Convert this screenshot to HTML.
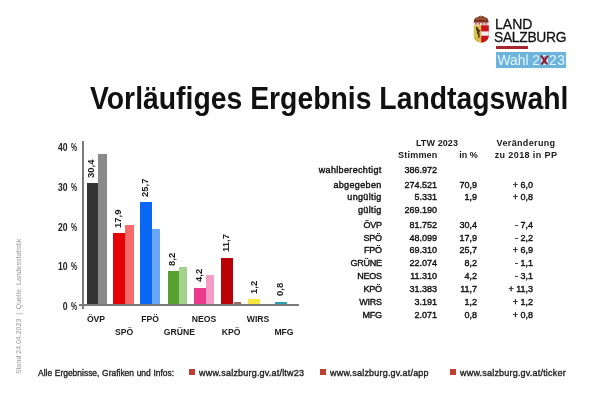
<!DOCTYPE html>
<html><head><meta charset="utf-8">
<style>
*{margin:0;padding:0;box-sizing:border-box}
html,body{width:600px;height:400px;background:#fff;overflow:hidden}
body{will-change:transform}
body{position:relative;font-family:"Liberation Sans",sans-serif;color:#1a1a1a}
.a{position:absolute;white-space:nowrap}
.bar{position:absolute}
.yl{position:absolute;font-size:10px;line-height:9px;text-align:right;width:30px;left:47px;color:#222;font-weight:bold;word-spacing:-0.6px;transform-origin:100% 50%;transform:scaleX(0.86)}
.pc{display:inline-block;transform:scaleX(0.78);transform-origin:100% 50%}
.xl{position:absolute;font-size:9.8px;line-height:9px;color:#1a1a1a;text-align:center;width:30px;font-weight:bold;transform:scaleX(0.88)}
.vl{position:absolute;font-size:9.5px;line-height:9px;color:#1a1a1a;font-weight:bold;transform-origin:0 0;transform:rotate(-90deg)}
.t{position:absolute;font-size:9px;line-height:9px;color:#1a1a1a}
.r{text-align:right}
.ft{position:absolute;font-size:9px;line-height:9px;color:#222;top:368.5px;-webkit-text-stroke:0.35px #222;letter-spacing:0.2px}
.sq{position:absolute;width:6px;height:6px;background:#bd3f32;top:369px}
.row{position:absolute;left:0;height:9px;width:600px;font-size:9px;line-height:9px;color:#111;-webkit-text-stroke:0.38px #111}
.c1{letter-spacing:0.35px}
.c1.p{letter-spacing:-0.25px;right:218.3px}
.row span{position:absolute;top:0;text-align:right;white-space:nowrap}
.c1{right:218.4px}.c2{right:163px}.c3{right:123px}.c4{right:67px}
</style></head><body>

<!-- Logo -->
<svg class="a" style="left:473px;top:15px" width="17" height="29" viewBox="0 0 17 29">
  <path d="M0.8 8 C0.5 4.2 2.2 2.4 4.4 2.4 C5.5 1.6 7 1.1 8.2 1.1 C9.4 1.1 10.9 1.6 12 2.4 C14.2 2.4 15.8 4.2 15.5 8 Z" fill="#7e2e22"/>
  <path d="M3 4.5 C5 3.5 11 3.5 13 4.5" stroke="#b48a44" stroke-width="0.8" fill="none"/>
  <circle cx="8" cy="1.4" r="1" fill="#a8804a"/>
  <rect x="1" y="7.6" width="14.5" height="2.6" fill="#f3e6e0"/>
  <circle cx="3" cy="8.9" r="0.8" fill="#c02a2c"/><circle cx="6.2" cy="8.9" r="0.8" fill="#c02a2c"/><circle cx="9.6" cy="8.9" r="0.8" fill="#c02a2c"/><circle cx="13" cy="8.9" r="0.8" fill="#c02a2c"/>
  <path d="M0.7 10.2 H8.1 V27.8 C4.5 27.5 1.2 25.5 0.8 21 Z" fill="#dcc04a"/>
  <path d="M8.1 10.2 H15.8 V21 C15.4 25.5 11.7 27.5 8.1 27.8 Z" fill="#c8141c"/>
  <rect x="8.1" y="16.4" width="7.7" height="4.3" fill="#f6eeee"/>
  <path d="M3 11.8 L5 12.6 L5.6 14.6 L7.4 15.4 L6.2 17.6 L6.8 20.6 L6.2 23.6 L5.2 22.4 L5.1 19.8 L3.9 18.2 L4.2 16.2 L3 14.4 Z" fill="#2e1c10" opacity="0.85"/>
  <path d="M1.5 22 C2.5 24 3.5 25 5 25.8" stroke="#b89838" stroke-width="1" fill="none"/>
</svg>
<div class="a" style="left:494.6px;top:15.6px;font-size:15.4px;line-height:15px;color:#111;-webkit-text-stroke:0.3px #111;transform-origin:0 0;transform:scaleX(0.91)">LAND</div>
<div class="a" style="left:494.4px;top:28.8px;font-size:15.4px;line-height:15px;color:#111;letter-spacing:-0.35px;-webkit-text-stroke:0.3px #111;transform-origin:0 0;transform:scaleX(0.9)">SALZBURG</div>
<div class="a" style="left:496px;top:46px;width:32px;height:2.7px;background:#a82430"></div>
<div class="a" style="left:496px;top:52.4px;width:70px;height:15.6px;background:#6cb4dc"></div>
<div class="a" style="left:497.6px;top:52.6px;font-size:13.8px;line-height:15px;color:#e2f6ff">Wahl <span style="letter-spacing:0.6px">2<span style="position:relative">0<svg style="position:absolute;left:-0.5px;top:2.6px" width="9" height="10" viewBox="0 0 9 10"><path d="M1 0.5 L7 9.3 M7.8 0.8 L1.6 9.3" stroke="#9a1428" stroke-width="2" fill="none"/></svg></span>23</span></div>

<!-- Title -->
<div class="a" id="title" style="left:90px;top:80.7px;font-size:31.5px;line-height:34px;font-weight:bold;color:#111;transform-origin:0 0;transform:scaleX(0.9)">Vorläufiges Ergebnis Landtagswahl</div>

<!-- Side note -->
<div class="a" style="left:14.5px;top:373.5px;font-size:7px;line-height:7px;color:#9a9a9a;transform-origin:0 0;transform:rotate(-90deg);letter-spacing:0">Stand 24.04.2023 &nbsp;|&nbsp; Quelle: Landesstatistik</div>

<!-- Chart axes -->
<div class="bar" style="left:82px;top:141px;width:2px;height:168px;background:#7a7a7a"></div>
<div class="bar" style="left:79px;top:304px;width:220px;height:2px;background:#7a7a7a"></div>

<div class="yl" style="top:142.7px">40 <span class="pc">%</span></div>
<div class="yl" style="top:182.7px">30 <span class="pc">%</span></div>
<div class="yl" style="top:222.5px">20 <span class="pc">%</span></div>
<div class="yl" style="top:262px">10 <span class="pc">%</span></div>
<div class="yl" style="top:302px">0 <span class="pc">%</span></div>

<!-- Bars: 0 at y=304.7, 4px per % -->
<div class="bar" style="left:86.5px;top:183px;width:11.3px;height:121px;background:#333"></div>
<div class="bar" style="left:98px;top:153.5px;width:8.5px;height:150.5px;background:#8a8a8a"></div>

<div class="bar" style="left:113.3px;top:233px;width:11.5px;height:71px;background:#e60008"></div>
<div class="bar" style="left:125px;top:224.5px;width:8.5px;height:79.5px;background:#f86a6a"></div>

<div class="bar" style="left:140.3px;top:202px;width:11.5px;height:102px;background:#0a66f4"></div>
<div class="bar" style="left:152px;top:229px;width:8.3px;height:75px;background:#68a8f6"></div>

<div class="bar" style="left:167.5px;top:271.3px;width:11.3px;height:32.7px;background:#58a232"></div>
<div class="bar" style="left:179px;top:267px;width:8.2px;height:37px;background:#a2d28c"></div>

<div class="bar" style="left:194.3px;top:287.5px;width:11.5px;height:16.5px;background:#ea3a8c"></div>
<div class="bar" style="left:206.2px;top:275px;width:8.2px;height:29px;background:#f49cc4"></div>

<div class="bar" style="left:221.3px;top:257.5px;width:11.8px;height:46.5px;background:#bc0008"></div>
<div class="bar" style="left:233.5px;top:302.3px;width:7.8px;height:1.7px;background:#9a6a64"></div>

<div class="bar" style="left:247.6px;top:299px;width:12.4px;height:5px;background:#f5e63c"></div>
<div class="bar" style="left:275px;top:301.5px;width:12.3px;height:2.5px;background:#2aa2b8"></div>

<!-- value labels (rotated) -->
<div class="vl" style="left:85.5px;top:177.5px">30,4</div>
<div class="vl" style="left:113.2px;top:228.0px">17,9</div>
<div class="vl" style="left:140.2px;top:196.5px">25,7</div>
<div class="vl" style="left:167.2px;top:265.5px">8,2</div>
<div class="vl" style="left:194.2px;top:282.0px">4,2</div>
<div class="vl" style="left:221.2px;top:251.5px">11,7</div>
<div class="vl" style="left:249.0px;top:293.5px">1,2</div>
<div class="vl" style="left:274.8px;top:296.0px">0,8</div>

<!-- x labels -->
<div class="xl" style="left:81.3px;top:314px">ÖVP</div>
<div class="xl" style="left:108.5px;top:326.8px">SPÖ</div>
<div class="xl" style="left:134.5px;top:314px">FPÖ</div>
<div class="xl" style="left:162px;top:326.8px">GRÜNE</div>
<div class="xl" style="left:189px;top:314px">NEOS</div>
<div class="xl" style="left:215.5px;top:326.8px">KPÖ</div>
<div class="xl" style="left:242.5px;top:314px">WIRS</div>
<div class="xl" style="left:269px;top:326.8px">MFG</div>

<!-- Table header -->
<div class="t" style="left:407px;top:138.6px;width:60px;text-align:center;font-weight:bold;letter-spacing:0.1px">LTW 2023</div>
<div class="t r" style="left:387px;top:151px;width:50.5px;font-weight:bold;letter-spacing:0.2px">Stimmen</div>
<div class="t r" style="left:437px;top:151px;width:40.8px;font-weight:bold">in %</div>
<div class="t" style="left:486px;top:138.6px;width:80px;text-align:center;font-weight:bold;letter-spacing:0.35px">Veränderung</div>
<div class="t" style="left:486px;top:151px;width:80px;text-align:center;font-weight:bold;letter-spacing:0.4px">zu 2018 in PP</div>

<div class="row" style="top:165.9px"><span class="c1">wahlberechtigt</span><span class="c2">386.972</span><span class="c3"></span><span class="c4"></span></div>
<div class="row" style="top:180.65px"><span class="c1">abgegeben</span><span class="c2">274.521</span><span class="c3">70,9</span><span class="c4">+ 6,0</span></div>
<div class="row" style="top:193.4px"><span class="c1">ungültig</span><span class="c2">5.331</span><span class="c3">1,9</span><span class="c4">+ 0,8</span></div>
<div class="row" style="top:206.15px"><span class="c1">gültig</span><span class="c2">269.190</span><span class="c3"></span><span class="c4"></span></div>
<div class="row" style="top:220.9px"><span class="c1 p">ÖVP</span><span class="c2">81.752</span><span class="c3">30,4</span><span class="c4">- 7,4</span></div>
<div class="row" style="top:233.65px"><span class="c1 p">SPÖ</span><span class="c2">48.099</span><span class="c3">17,9</span><span class="c4">- 2,2</span></div>
<div class="row" style="top:246.4px"><span class="c1 p">FPÖ</span><span class="c2">69.310</span><span class="c3">25,7</span><span class="c4">+ 6,9</span></div>
<div class="row" style="top:259.15px"><span class="c1 p">GRÜNE</span><span class="c2">22.074</span><span class="c3">8,2</span><span class="c4">- 1,1</span></div>
<div class="row" style="top:272.05px"><span class="c1 p">NEOS</span><span class="c2">11.310</span><span class="c3">4,2</span><span class="c4">- 3,1</span></div>
<div class="row" style="top:284.95px"><span class="c1 p">KPÖ</span><span class="c2">31.383</span><span class="c3">11,7</span><span class="c4">+ 11,3</span></div>
<div class="row" style="top:297.75px"><span class="c1 p">WIRS</span><span class="c2">3.191</span><span class="c3">1,2</span><span class="c4">+ 1,2</span></div>
<div class="row" style="top:310.55px"><span class="c1 p">MFG</span><span class="c2">2.071</span><span class="c3">0,8</span><span class="c4">+ 0,8</span></div>

<!-- Footer -->
<div class="ft" style="left:37.5px;letter-spacing:0;word-spacing:0.3px;transform-origin:0 0;transform:scaleX(0.94)">Alle Ergebnisse, Grafiken und Infos:</div>
<div class="sq" style="left:189px"></div>
<div class="ft" style="left:199px">www.salzburg.gv.at/ltw23</div>
<div class="sq" style="left:320px"></div>
<div class="ft" style="left:330px">www.salzburg.gv.at/app</div>
<div class="sq" style="left:450px"></div>
<div class="ft" style="left:460px">www.salzburg.gv.at/ticker</div>

</body></html>
